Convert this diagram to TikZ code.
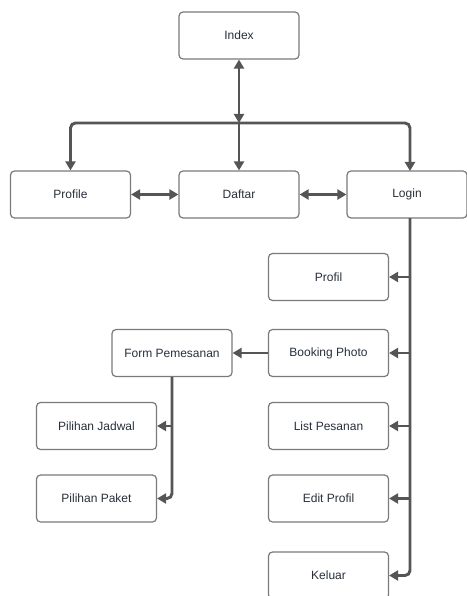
\documentclass[tikz,border=0pt]{standalone}
\usepackage{fontspec}
\setmainfont{Liberation Sans}
\usetikzlibrary{arrows.meta}
\definecolor{linec}{HTML}{555555}
\definecolor{boxc}{HTML}{7A7A7A}
\definecolor{txtc}{HTML}{27303C}
\begin{document}
\begin{tikzpicture}[x=1pt,y=-1pt,
  box/.style={draw=boxc,line width=1.2pt,rounded corners=4pt,fill=white,
    minimum width=120pt,minimum height=47pt,inner sep=0pt,
    text=txtc,font=\fontsize{12}{14}\selectfont},
  conn/.style={draw=linec,line width=2.9pt,rounded corners=5pt},
  arr/.style={conn,-{Triangle[length=9pt,width=10pt]}},
  dbl/.style={conn,{Triangle[length=9pt,width=10pt]}-{Triangle[length=9pt,width=10pt]}}]
\useasboundingbox (0,0) rectangle (466,596);
\node[box] (index) at (239,35.5) {Index};
\node[box] (profile) at (70.5,194.5) {Profile};
\node[box] (daftar) at (239,194.5) {Daftar};
\node[box] (login) at (407,194.5) {Login};
\node[box] (profil) at (328.5,277) {Profil};
\node[box] (booking) at (328.5,353) {Booking Photo};
\node[box] (list) at (328.5,426) {List Pesanan};
\node[box] (edit) at (328.5,498.5) {Edit Profil};
\node[box] (keluar) at (328.5,575.5) {Keluar};
\node[box] (form) at (172,353) {Form Pemesanan};
\node[box] (jadwal) at (96.5,426) {Pilihan Jadwal};
\node[box] (paket) at (96.5,498.5) {Pilihan Paket};
% bus
\coordinate (bus) at (239,123);
\coordinate (logintop) at (410,171);
\coordinate (loginbot) at (410,218);
\draw[dbl] (index.south) -- (bus);
\draw[arr] (bus) -| (profile.north);
\draw[arr] (bus) -- (daftar.north);
\draw[arr] (bus) -| (logintop);
\draw[dbl] (profile.east) -- (daftar.west);
\draw[dbl] (daftar.east) -- (login.west);
% login spine
\draw[arr] (loginbot) |- (keluar.east);
\draw[arr] (loginbot |- profil.east) -- (profil.east);
\draw[arr] (loginbot |- booking.east) -- (booking.east);
\draw[arr] (loginbot |- list.east) -- (list.east);
\draw[arr] (loginbot |- edit.east) -- (edit.east);
% booking
\draw[arr] (booking.west) -- (form.east);
\draw[arr] (form.south) |- (paket.east);
\draw[arr] (form.south |- jadwal.east) -- (jadwal.east);
\end{tikzpicture}
\end{document}
